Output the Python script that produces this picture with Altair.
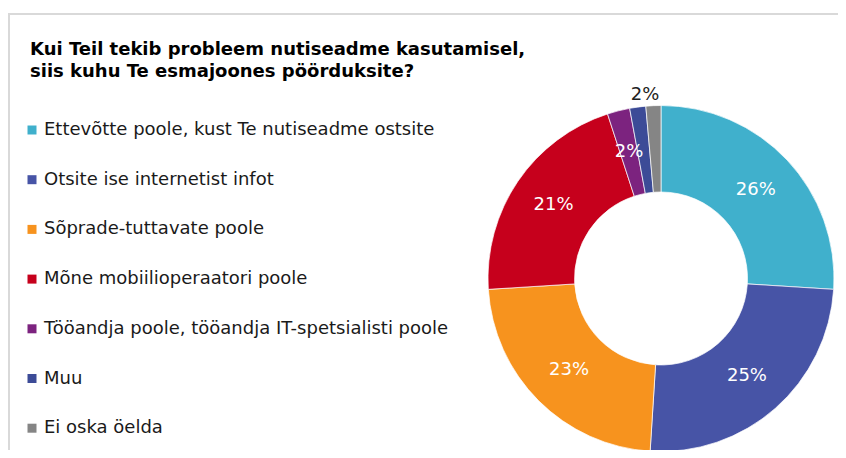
import altair as alt
import pandas as pd

categories = [
    "Ettevõtte poole, kust Te nutiseadme ostsite",
    "Otsite ise internetist infot",
    "Sõprade-tuttavate poole",
    "Mõne mobiilioperaatori poole",
    "Tööandja poole, tööandja IT-spetsialisti poole",
    "Muu",
    "Ei oska öelda",
]
values = [26, 25, 23, 21, 2.1, 1.5, 1.4]
labels = ["26%", "25%", "23%", "21%", "2%", "", "2%"]
colors = ["#40b0cc", "#4754a6", "#f7931e", "#c6001c", "#7c237f", "#3c4b97", "#858585"]
title_lines = [
    "Kui Teil tekib probleem nutiseadme kasutamisel,",
    "siis kuhu  Te esmajoones pöörduksite?",
]

df = pd.DataFrame({
    "cat": categories,
    "val": values,
    "lab": labels,
    "idx": list(range(len(categories))),
})

CX, CY = 653, 265.5

base = alt.Chart(df).encode(
    theta=alt.Theta("val:Q", stack=True),
    order=alt.Order("idx:Q"),
)

arcs = base.mark_arc(
    outerRadius=173, innerRadius=86.5, stroke="#ffffff", strokeWidth=0.7
).encode(
    x=alt.value(CX),
    y=alt.value(CY),
    color=alt.Color(
        "cat:N",
        scale=alt.Scale(domain=categories, range=colors),
        legend=alt.Legend(title=None),
    ),
)

inner_text = base.mark_text(
    radius=130, font="DejaVu Sans", fontSize=18, color="#ffffff"
).encode(
    x=alt.value(CX),
    y=alt.value(CY),
    text="lab:N",
).transform_filter(alt.datum.cat != categories[-1])

outer_text = base.mark_text(
    radius=184, font="DejaVu Sans", fontSize=18, color="#222222", dx=-24
).encode(
    x=alt.value(CX),
    y=alt.value(CY),
    text="lab:N",
).transform_filter(alt.datum.cat == categories[-1])

frame_top = alt.Chart(df).mark_rule(color="#d9d9d9", strokeWidth=2).encode(
    x=alt.value(0), x2=alt.value(840), y=alt.value(1)
)
frame_left = alt.Chart(df).mark_rule(color="#d9d9d9", strokeWidth=2).encode(
    x=alt.value(1), y=alt.value(0), y2=alt.value(460)
)

chart = alt.layer(frame_top, frame_left, arcs, inner_text, outer_text).properties(
    width=830,
    height=437,
    padding={"left": 0, "top": 5, "right": 0, "bottom": 0},
    autosize=alt.AutoSizeParams(type="none"),
    title=alt.TitleParams(
        text=title_lines,
        anchor="start",
        frame="group",
        font="DejaVu Sans",
        fontSize=18,
        fontWeight="bold",
        color="#000000",
        baseline="alphabetic",
        lineHeight=22.5,
        dx=22,
        dy=83,
        offset=0,
    ),
).configure_view(stroke=None).configure_legend(
    orient="none",
    legendX=15,
    legendY=108,
    labelFont="DejaVu Sans",
    labelFontSize=18,
    labelColor="#1a1a1a",
    symbolType="square",
    symbolSize=81,
    symbolStrokeWidth=0,
    rowPadding=31.7,
    labelOffset=3,
    labelLimit=600,
    padding=0,
)

chart.save("out.html", embed_options={"renderer": "svg", "actions": False})
